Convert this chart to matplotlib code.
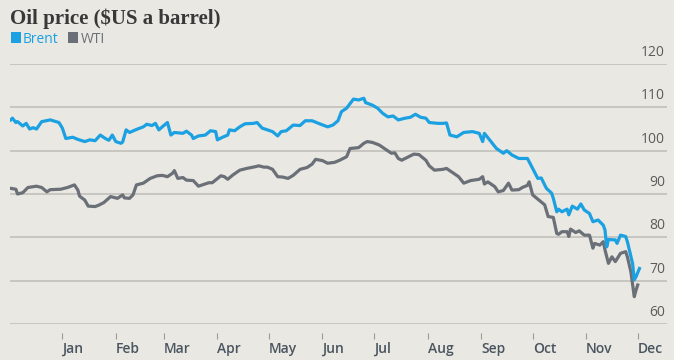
import numpy as np
import pandas as pd
import matplotlib
matplotlib.use("Agg")
import matplotlib.pyplot as plt
import matplotlib.dates as mdates
import matplotlib.transforms as mtransforms
from matplotlib.patches import Rectangle

# ── Data (days counted from 1 Jan 2014) ─────────────────────────────────────
brent_day = [-30, -29, -27, -26, -23, -21, -19, -17, -15, -12, -7, -2, 0, 2, 6, 9,
             13, 16, 19, 22, 25, 27, 29, 31, 34, 35, 37, 39, 43, 47, 49, 52, 54,
             56, 58, 61, 63, 65, 70, 72, 75, 76, 79, 83, 86, 89, 90, 93, 96, 97,
             100, 103, 106, 111, 113, 116, 119, 122, 125, 127, 130, 134, 138, 141,
             145, 150, 154, 157, 160, 162, 165, 169, 172, 175, 176, 180, 183, 186,
             189, 192, 195, 199, 202, 205, 208, 211, 213, 218, 221, 223, 225, 229,
             233, 238, 242, 244, 245, 248, 252, 256, 258, 261, 265, 270, 273, 276,
             278, 281, 284, 285, 287, 288, 290, 293, 294, 296, 299, 301, 303, 306,
             308, 311, 314, 315, 316, 317, 321, 322, 324, 327, 328, 331, 332, 333, 335]
brent = [107.1, 107.5, 106.5, 106.7, 105.7, 106.3, 105.0, 105.3, 105.0, 106.7, 107.1,
         106.5, 105.2, 102.8, 103.1, 102.6, 102.1, 102.5, 102.3, 103.6, 102.8, 102.4,
         103.6, 102.1, 101.7, 102.0, 104.8, 104.2, 104.9, 105.5, 106.1, 105.8, 106.3,
         104.8, 105.5, 106.5, 103.6, 104.2, 104.0, 104.5, 103.6, 102.8, 103.4, 103.6,
         104.6, 104.4, 102.5, 103.1, 103.6, 104.8, 104.6, 105.5, 106.2, 106.3, 106.5,
         105.2, 104.8, 104.4, 103.4, 104.4, 104.6, 105.9, 105.8, 106.9, 106.9, 106.1,
         105.5, 105.9, 106.9, 109.0, 109.8, 111.9, 111.7, 112.1, 111.1, 110.5, 109.8,
         108.6, 107.8, 108.0, 107.1, 107.5, 107.7, 108.4, 107.7, 107.5, 106.5, 106.3,
         106.3, 106.4, 103.6, 103.2, 104.2, 104.4, 104.0, 102.1, 104.0, 102.5, 100.5,
         99.4, 100.0, 99.0, 98.2, 98.2, 95.9, 93.6, 93.7, 91.3, 90.2, 89.0, 85.9, 86.5,
         85.9, 86.5, 85.2, 87.2, 86.5, 87.7, 86.3, 85.5, 83.6, 84.0, 82.8, 81.7, 77.8,
         79.5, 79.4, 78.6, 80.5, 80.2, 79.0, 74.0, 70.2, 70.9, 72.8]

wti_day = [-30, -27, -26, -23, -20, -15, -12, -9, -7, -1, 3, 7, 9, 10, 13, 15, 19, 21,
           24, 28, 32, 35, 36, 39, 41, 43, 47, 51, 55, 58, 61, 64, 65, 67, 70, 72, 76,
           79, 82, 85, 87, 92, 94, 96, 99, 103, 107, 112, 114, 117, 119, 122, 125, 128,
           131, 134, 138, 142, 145, 147, 151, 154, 158, 161, 165, 167, 172, 175, 177,
           180, 184, 188, 191, 193, 195, 197, 200, 204, 207, 211, 213, 216, 221, 223,
           227, 230, 233, 237, 242, 244, 245, 247, 251, 253, 256, 259, 261, 265, 267,
           270, 271, 273, 277, 280, 282, 285, 287, 288, 290, 293, 294, 295, 298, 300,
           303, 306, 308, 309, 312, 314, 315, 317, 319, 321, 324, 327, 328, 330, 332,
           333, 334]
wti = [91.3, 91.1, 90.0, 90.3, 91.5, 91.8, 91.5, 90.5, 91.0, 91.1, 91.5, 92.1, 90.9,
       89.5, 88.6, 87.2, 87.1, 87.4, 88.0, 89.4, 89.0, 89.8, 89.1, 89.0, 89.8, 92.1,
       92.5, 93.6, 94.2, 94.3, 94.0, 94.8, 95.4, 93.6, 93.8, 93.2, 93.1, 91.8, 92.2,
       92.6, 92.6, 94.2, 94.0, 93.4, 94.4, 95.5, 95.9, 96.3, 96.5, 96.2, 96.2, 95.7,
       94.0, 93.9, 93.6, 94.3, 95.7, 96.1, 96.9, 98.0, 97.7, 97.1, 97.3, 97.8, 98.6,
       100.5, 100.7, 101.7, 102.1, 101.9, 101.3, 100.2, 99.4, 99.5, 98.2, 97.8, 98.4,
       99.2, 99.1, 97.8, 96.5, 95.5, 95.7, 95.9, 94.8, 94.0, 92.5, 93.1, 93.4, 94.0,
       92.3, 92.8, 91.7, 90.5, 90.8, 92.5, 90.9, 91.0, 91.5, 92.0, 92.8, 89.8, 88.5,
       87.5, 84.8, 84.6, 80.9, 80.7, 81.3, 81.3, 80.2, 81.9, 81.1, 81.5, 80.5, 80.5,
       77.5, 78.6, 78.2, 79.0, 77.1, 74.0, 75.5, 74.4, 76.3, 76.7, 75.5, 72.1, 66.3,
       67.8, 69.0]

month_labels = ["Jan", "Feb", "Mar", "Apr", "May", "Jun",
                "Jul", "Aug", "Sep", "Oct", "Nov", "Dec"]
y_ticks = [60, 70, 80, 90, 100, 110, 120]

BG = "#e9e8e2"
BLUE = "#1ba1e2"
GREY = "#6b7078"
GRID = "#bdbcb6"
W, H = 674, 360

base = pd.Timestamp("2014-01-01")
brent_dates = base + pd.to_timedelta(brent_day, unit="D")
wti_dates = base + pd.to_timedelta(wti_day, unit="D")
month_starts = pd.date_range("2014-01-01", periods=12, freq="MS")

fig = plt.figure(figsize=(W / 100, H / 100), dpi=100, facecolor=BG)
ax = fig.add_axes([10 / W, 36 / H, 657 / W, 260 / H])
ax.set_facecolor(BG)

ax.set_ylim(60, 120)
ax.set_xlim(base - pd.Timedelta(days=30.4), base + pd.Timedelta(days=351))
ax.set_yticks(y_ticks)
ax.yaxis.grid(True, color=GRID, linewidth=1.1)
ax.set_axisbelow(True)
ax.tick_params(axis="y", length=0, labelleft=False)
ax.tick_params(axis="x", length=0, labelbottom=False)
for s in ax.spines.values():
    s.set_visible(False)

ax.plot(wti_dates, wti, color=GREY, lw=2.3, solid_joinstyle="round")
ax.plot(brent_dates, brent, color=BLUE, lw=2.3, solid_joinstyle="round")

# value labels sit above each gridline at the right edge
trans = mtransforms.blended_transform_factory(ax.transAxes, ax.transData)
for v in y_ticks:
    ax.text(0.997, v + 0.9, str(v), transform=trans, ha="right", va="bottom",
            fontsize=10, color="#5b5b5b", family="Open Sans")

# month ticks hang a little below the bottom gridline
sec = ax.secondary_xaxis(-0.035)
sec.set_xticks(mdates.date2num(month_starts), month_labels)
sec.tick_params(length=4, width=0.8, color="#9a9a9a", pad=2.5,
                labelsize=10, labelcolor="#4a5560")
for lab in sec.get_xticklabels():
    lab.set_horizontalalignment("left")
    lab.set_family("Open Sans")
    lab.set_fontweight("semibold")
sec.spines["bottom"].set_visible(False)

fig.text(10 / W, 1 - 24 / H, "Oil price ($US a barrel)", family="Liberation Serif",
         fontweight="bold", fontsize=15, color="#383838", ha="left", va="baseline")

# legend: coloured squares followed by the series names
for x0, col, name in [(10.7, BLUE, "Brent"), (68.3, GREY, "WTI")]:
    fig.patches.append(Rectangle((x0 / W, 1 - 42.7 / H), 10 / W, 10.4 / H,
                                 transform=fig.transFigure, color=col, lw=0))
    fig.text((x0 + 12) / W, 1 - 42.7 / H, name, color=col, fontsize=10, ha="left",
             va="baseline", family="Open Sans")

fig.savefig("out.png", dpi=100, facecolor=BG)
